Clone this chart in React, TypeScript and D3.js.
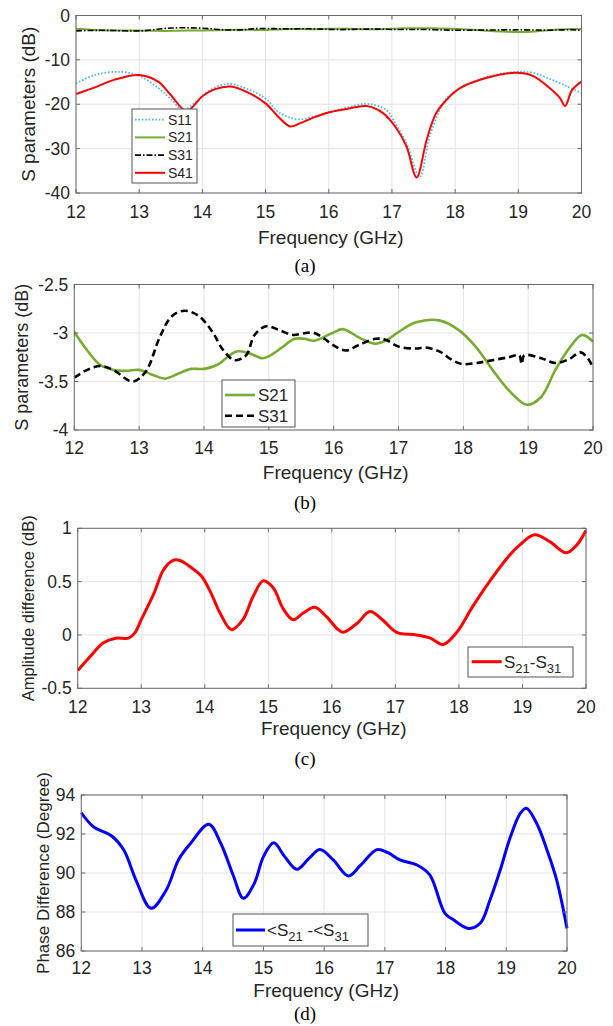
import React from "react";
import * as d3 from "d3";

// ---------- DATA ----------
const fS11 = [12, 12.3, 12.7, 13, 13.3, 13.5, 13.7, 13.9, 14.1, 14.4, 14.7, 15, 15.2, 15.5, 15.8, 16, 16.3, 16.6, 16.9, 17.07, 17.23, 17.44, 17.6, 17.8, 17.91, 18.07, 18.49, 18.97, 19.23, 19.5, 19.76, 20];
const S11 = [-15.3, -13.4, -12.7, -13.6, -16.3, -18.8, -21.2, -19.5, -17.0, -15.4, -16.5, -18.7, -21.7, -23.4, -22.6, -21.8, -20.7, -19.9, -21.2, -24.7, -28.8, -36.3, -27.1, -20.0, -18.0, -16.5, -13.9, -12.7, -12.9, -14.3, -15.9, -17.5];

const fS41 = [12, 12.3, 12.6, 13, 13.3, 13.5, 13.75, 14, 14.2, 14.45, 14.7, 15, 15.2, 15.39, 15.54, 15.8, 16.01, 16.3, 16.6, 16.86, 17.07, 17.23, 17.39, 17.55, 17.7, 17.91, 18.07, 18.49, 18.97, 19.23, 19.5, 19.66, 19.74, 19.85, 20];
const S41 = [-17.7, -16.2, -14.5, -13.4, -14.9, -17.9, -21.5, -18.2, -16.6, -16.0, -17.2, -19.8, -22.8, -25.0, -24.3, -22.8, -21.8, -21.0, -20.4, -22.0, -25.4, -29.5, -36.5, -28.0, -22.0, -18.3, -16.4, -14.1, -12.9, -13.6, -16.4, -18.6, -20.4, -16.8, -14.9];

const fS21 = [12, 12.2, 12.4, 12.6, 12.8, 13, 13.2, 13.4, 13.6, 13.8, 14, 14.2, 14.5, 14.7, 14.9, 15, 15.2, 15.4, 15.55, 15.7, 15.98, 16.14, 16.4, 16.63, 16.8, 17, 17.27, 17.63, 17.93, 18.19, 18.45, 18.7, 18.98, 19.2, 19.42, 19.63, 19.83, 20];
const S21 = [-2.99, -3.18, -3.33, -3.38, -3.39, -3.38, -3.43, -3.47, -3.42, -3.37, -3.37, -3.33, -3.19, -3.21, -3.26, -3.24, -3.15, -3.06, -3.06, -3.08, -3.0, -2.96, -3.05, -3.11, -3.08, -2.99, -2.89, -2.87, -2.97, -3.14, -3.38, -3.59, -3.74, -3.66, -3.38, -3.16, -3.02, -3.09];

const fS31 = [12, 12.2, 12.4, 12.6, 12.9, 13.1, 13.32, 13.5, 13.7, 13.93, 14.14, 14.29, 14.47, 14.65, 14.78, 14.96, 15.16, 15.37, 15.57, 15.7, 15.88, 15.98, 16.19, 16.4, 16.65, 16.8, 17, 17.27, 17.42, 17.63, 17.83, 17.98, 18.19, 18.45, 18.7, 18.86, 18.9, 18.94, 19.2, 19.42, 19.63, 19.81, 19.93, 20];
const S31 = [-3.46, -3.38, -3.34, -3.38, -3.5, -3.4, -3.04, -2.83, -2.77, -2.83, -3.0, -3.17, -3.28, -3.23, -3.02, -2.93, -2.97, -3.02, -3.0, -3.0, -3.07, -3.12, -3.18, -3.12, -3.06, -3.07, -3.14, -3.16, -3.15, -3.19, -3.28, -3.32, -3.31, -3.28, -3.25, -3.23, -3.32, -3.23, -3.26, -3.31, -3.27, -3.2, -3.27, -3.36];

const fAmp = [12, 12.2, 12.4, 12.6, 12.8, 12.9, 13, 13.2, 13.35, 13.5, 13.6, 13.8, 13.95, 14.1, 14.24, 14.42, 14.6, 14.76, 14.92, 15.08, 15.23, 15.39, 15.55, 15.73, 15.91, 16.1, 16.18, 16.4, 16.6, 16.8, 17.02, 17.33, 17.55, 17.75, 17.96, 18.22, 18.48, 18.8, 18.95, 19.19, 19.43, 19.69, 19.85, 20];
const ampDiff = [-0.334, -0.2, -0.075, -0.03, -0.03, 0.02, 0.143, 0.39, 0.61, 0.7, 0.7, 0.626, 0.55, 0.39, 0.206, 0.05, 0.143, 0.36, 0.507, 0.44, 0.25, 0.143, 0.206, 0.26, 0.174, 0.05, 0.025, 0.11, 0.22, 0.14, 0.025, 0.0, -0.03, -0.09, 0.02, 0.27, 0.5, 0.75, 0.84, 0.94, 0.875, 0.77, 0.84, 0.98];

const fPh = [12, 12.2, 12.5, 12.7, 12.9, 13.15, 13.4, 13.6, 13.8, 14.1, 14.3, 14.5, 14.67, 14.85, 15, 15.17, 15.35, 15.55, 15.75, 15.93, 16.15, 16.4, 16.6, 16.87, 17.05, 17.25, 17.53, 17.74, 17.99, 18.13, 18.38, 18.57, 18.73, 18.9, 19.06, 19.23, 19.33, 19.5, 19.67, 19.83, 20];
const phaseDiff = [93.09, 92.37, 91.9, 91.18, 89.64, 88.19, 89.13, 90.67, 91.52, 92.5, 91.5, 89.9, 88.7, 89.47, 90.84, 91.55, 90.84, 90.19, 90.75, 91.2, 90.67, 89.85, 90.4, 91.2, 91.04, 90.67, 90.41, 89.9, 87.93, 87.6, 87.16, 87.42, 88.6, 90.15, 91.78, 93.06, 93.32, 92.55, 91.18, 89.64, 87.16];

const xTicks = [12, 13, 14, 15, 16, 17, 18, 19, 20];
const yTicksA = [0, -10, -20, -30, -40];
const yTicksB = [-2.5, -3, -3.5, -4];
const yTicksC = [1, 0.5, 0, -0.5];
const yTicksD = [94, 92, 90, 88, 86];

const SANS = "'Liberation Sans', Arial, sans-serif";
const SERIF = "'Liberation Serif', 'Times New Roman', serif";

type Series = { xs: number[]; ys: number[]; color: string; width: number; dash?: string };

function Panel(props: {
  x0: number; x1: number; y0: number; y1: number;
  yDomain: [number, number]; yTicks: number[]; yFmt: (v: number) => string;
  series: Series[]; ylabel: string; ylabelX: number; ylabelSize: number;
  titleY: number; captionY: number; caption: string; tickY: number;
}) {
  const { x0, x1, y0, y1 } = props;
  const x = d3.scaleLinear().domain([12, 20]).range([x0, x1]);
  const y = d3.scaleLinear().domain(props.yDomain).range([y1, y0]);
  const grid = "#e3e3e3";
  const axis = "#6b6b6b";
  return (
    <g>
      {xTicks.map((t) => (
        <line key={"gx" + t} x1={x(t)} x2={x(t)} y1={y0} y2={y1} stroke={grid} strokeWidth={1} />
      ))}
      {props.yTicks.map((t) => (
        <line key={"gy" + t} x1={x0} x2={x1} y1={y(t)} y2={y(t)} stroke={grid} strokeWidth={1} />
      ))}
      <clipPath id={"clip" + props.caption}>
        <rect x={x0} y={y0 - 2} width={x1 - x0} height={y1 - y0 + 4} />
      </clipPath>
      <g clipPath={`url(#clip${props.caption})`}>
        {props.series.map((s, i) => {
          const pts = s.xs.map((xx, k) => [xx, s.ys[k]] as [number, number]);
          const line = d3.line<[number, number]>()
            .x((d) => x(d[0]))
            .y((d) => y(d[1]))
            .curve(d3.curveCatmullRom.alpha(0.5));
          return (
            <path key={i} d={line(pts) || ""} fill="none" stroke={s.color} strokeWidth={s.width}
              strokeDasharray={s.dash} strokeLinejoin="round" />
          );
        })}
      </g>
      <rect x={x0} y={y0} width={x1 - x0} height={y1 - y0} fill="none" stroke={axis} strokeWidth={1} />
      {xTicks.map((t) => (
        <g key={"tx" + t}>
          <line x1={x(t)} x2={x(t)} y1={y1} y2={y1 - 4} stroke={axis} />
          <line x1={x(t)} x2={x(t)} y1={y0} y2={y0 + 4} stroke={axis} />
          <text x={x(t)} y={props.tickY} dy="0.35em" textAnchor="middle" fontFamily={SANS} fontSize={17.5} fill="#262626">{t}</text>
        </g>
      ))}
      {props.yTicks.map((t) => (
        <g key={"ty" + t}>
          <line x1={x0} x2={x0 + 4} y1={y(t)} y2={y(t)} stroke={axis} />
          <line x1={x1} x2={x1 - 4} y1={y(t)} y2={y(t)} stroke={axis} />
          <text x={x0 - 6} y={y(t)} dy="0.35em" textAnchor="end" fontFamily={SANS} fontSize={17.5} fill="#262626">{props.yFmt(t)}</text>
        </g>
      ))}
      <text x={(x0 + x1) / 2 + 2} y={props.titleY} dy="0.35em" textAnchor="middle" fontFamily={SANS} fontSize={19} fill="#262626">Frequency (GHz)</text>
      <text transform={`translate(${props.ylabelX},${(y0 + y1) / 2}) rotate(-90)`} dy="0.35em" textAnchor="middle" fontFamily={SANS} fontSize={props.ylabelSize} fill="#262626">{props.ylabel}</text>
      <text x={305} y={props.captionY} dy="0.35em" textAnchor="middle" fontFamily={SERIF} fontSize={19} fill="#000">{props.caption}</text>
    </g>
  );
}

const fmt = (v: number) => String(v);

export default function App() {
  const blue = "#4cb8ee";
  const green = "#77ac30";
  const red = "#ff0000";
  return (
    <svg width={613} height={1026} style={{ position: "absolute", left: 0, top: 0, background: "#fff" }}>
      {/* (a) */}
      <Panel x0={76} x1={581.5} y0={15.5} y1={193} yDomain={[-40, 0]} yTicks={yTicksA} yFmt={fmt}
        series={[
          { xs: fS11, ys: S11, color: blue, width: 1.8, dash: "1.6 1.8" },
          { xs: fS21, ys: S21, color: green, width: 2 },
          { xs: fS31, ys: S31, color: "#000", width: 1.6, dash: "6 2 1.5 2" },
          { xs: fS41, ys: S41, color: red, width: 2 },
        ]}
        ylabel="S parameters (dB)" ylabelX={28} ylabelSize={19} titleY={237} captionY={265} caption="(a)" tickY={212} />
      <g>
        <rect x={132} y={109} width={65} height={74} fill="#fff" stroke="#555" strokeWidth={1} />
        {[
          { t: "S11", c: blue, d: "1.6 1.8", w: 1.8 },
          { t: "S21", c: green, d: undefined, w: 2 },
          { t: "S31", c: "#000", d: "6 2 1.5 2", w: 1.6 },
          { t: "S41", c: red, d: undefined, w: 2 },
        ].map((e, i) => (
          <g key={e.t}>
            <line x1={135} x2={165} y1={119.7 + i * 17.7} y2={119.7 + i * 17.7} stroke={e.c} strokeWidth={e.w} strokeDasharray={e.d} />
            <text x={168} y={119.7 + i * 17.7} dy="0.35em" fontFamily={SANS} fontSize={14} fill="#262626">{e.t}</text>
          </g>
        ))}
      </g>

      {/* (b) */}
      <Panel x0={74.3} x1={593} y0={284.5} y1={430} yDomain={[-4, -2.5]} yTicks={yTicksB} yFmt={fmt}
        series={[
          { xs: fS21, ys: S21, color: green, width: 2.6 },
          { xs: fS31, ys: S31, color: "#000", width: 2.6, dash: "7 4" },
        ]}
        ylabel="S parameters (dB)" ylabelX={22} ylabelSize={18} titleY={472} captionY={502} caption="(b)" tickY={448} />
      <g>
        <rect x={222} y={380} width={73} height={47} fill="#fff" stroke="#555" strokeWidth={1} />
        <line x1={225} x2={255} y1={395} y2={395} stroke={green} strokeWidth={2.6} />
        <text x={258} y={395} dy="0.35em" fontFamily={SANS} fontSize={17} fill="#262626">S21</text>
        <line x1={225} x2={255} y1={415.7} y2={415.7} stroke="#000" strokeWidth={2.6} strokeDasharray="7 4" />
        <text x={258} y={415.7} dy="0.35em" fontFamily={SANS} fontSize={17} fill="#262626">S31</text>
      </g>

      {/* (c) */}
      <Panel x0={77.7} x1={586} y0={528.3} y1={688.3} yDomain={[-0.5, 1]} yTicks={yTicksC} yFmt={fmt}
        series={[{ xs: fAmp, ys: ampDiff, color: red, width: 3 }]}
        ylabel="Amplitude difference (dB)" ylabelX={28} ylabelSize={16.5} titleY={728} captionY={758} caption="(c)" tickY={706.7} />
      <g>
        <rect x={468} y={647} width={105} height={30} fill="#fff" stroke="#555" strokeWidth={1} />
        <line x1={471.7} x2={501.7} y1={661.7} y2={661.7} stroke={red} strokeWidth={3} />
        <text x={504} y={661.7} dy="0.35em" fontFamily={SANS} fontSize={17} fill="#262626">
          S<tspan fontSize={13} dy="5">21</tspan><tspan dy="-5">-S</tspan><tspan fontSize={13} dy="5">31</tspan>
        </text>
      </g>

      {/* (d) */}
      <Panel x0={81.3} x1={567} y0={795} y1={951} yDomain={[86, 94]} yTicks={yTicksD} yFmt={fmt}
        series={[{ xs: fPh, ys: phaseDiff, color: "#0000ff", width: 3 }]}
        ylabel="Phase Difference (Degree)" ylabelX={43} ylabelSize={17} titleY={990} captionY={1013} caption="(d)" tickY={968} />
      <g>
        <rect x={233} y={914} width={135} height={32} fill="#fff" stroke="#555" strokeWidth={1} />
        <line x1={236} x2={265} y1={930} y2={930} stroke="#0000ff" strokeWidth={3} />
        <text x={267} y={930} dy="0.35em" fontFamily={SANS} fontSize={17} fill="#262626">
          {"<S"}<tspan fontSize={13} dy="5">21</tspan><tspan dy="-5">{" -<S"}</tspan><tspan fontSize={13} dy="5">31</tspan>
        </text>
      </g>
    </svg>
  );
}
